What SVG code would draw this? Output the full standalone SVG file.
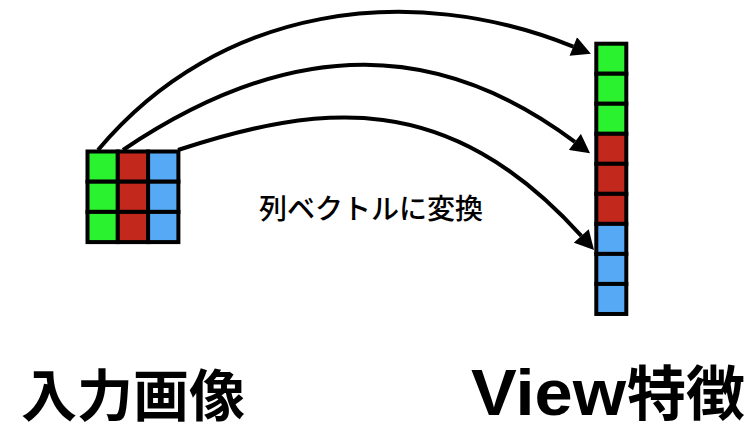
<svg xmlns="http://www.w3.org/2000/svg" width="751" height="427" viewBox="0 0 751 427">
<style>
.cell{stroke:#000;stroke-width:4}
.g{fill:#2AF22E}
.r{fill:#C2291C}
.b{fill:#56A9F5}
.edge{fill:none;stroke:#000;stroke-width:4;marker-end:url(#ah)}
.jp{font-family:"Noto Sans CJK JP","Noto Sans CJK SC",sans-serif;fill:#000}
.lbl{font-family:"Liberation Sans","Noto Sans CJK JP",sans-serif;font-weight:bold;fill:#000}
</style>
<defs>
<marker id="ah" markerUnits="userSpaceOnUse" markerWidth="20" markerHeight="20" viewBox="0 0 18 19" refX="0" refY="9.5" orient="auto">
<path d="M0,0 L18,9.5 L0,19 z" fill="#000"/>
</marker>
</defs>
<rect width="751" height="427" fill="#fff"/>
<g id="input-grid">
<rect class="cell g" x="87.5" y="151.5" width="30.3" height="30.2"/>
<rect class="cell r" x="117.8" y="151.5" width="30.3" height="30.2"/>
<rect class="cell b" x="148.1" y="151.5" width="30.3" height="30.2"/>
<rect class="cell g" x="87.5" y="181.7" width="30.3" height="30.2"/>
<rect class="cell r" x="117.8" y="181.7" width="30.3" height="30.2"/>
<rect class="cell b" x="148.1" y="181.7" width="30.3" height="30.2"/>
<rect class="cell g" x="87.5" y="211.9" width="30.3" height="30.2"/>
<rect class="cell r" x="117.8" y="211.9" width="30.3" height="30.2"/>
<rect class="cell b" x="148.1" y="211.9" width="30.3" height="30.2"/>
</g>
<g id="view-vector">
<rect class="cell g" x="596.3" y="43.7" width="30" height="30.03"/>
<rect class="cell g" x="596.3" y="73.73" width="30" height="30.03"/>
<rect class="cell g" x="596.3" y="103.76" width="30" height="30.03"/>
<rect class="cell r" x="596.3" y="133.79" width="30" height="30.03"/>
<rect class="cell r" x="596.3" y="163.82" width="30" height="30.03"/>
<rect class="cell r" x="596.3" y="193.85" width="30" height="30.03"/>
<rect class="cell b" x="596.3" y="223.88" width="30" height="30.03"/>
<rect class="cell b" x="596.3" y="253.91" width="30" height="30.03"/>
<rect class="cell b" x="596.3" y="283.94" width="30" height="30.03"/>
</g>
<g id="connectors">
<path class="edge" d="M98,150 C220,4.5 411,-19 573.3,46.6"/>
<path class="edge" d="M123,150 C297,32.4 442.9,42.9 574.9,141.9"/>
<path class="edge" d="M178,150 C320.5,103.5 447.3,87.9 581.3,235.9"/>
</g>
<g id="transform-label">
<text class="jp" x="259" y="219" font-size="28" font-weight="500">列ベクトルに変換</text>
</g>
<g id="input-label">
<text class="jp" x="21" y="416" font-size="56" font-weight="bold">入力画像</text>
</g>
<g id="view-label">
<text class="lbl" x="471" y="414.5" font-size="64"><tspan textLength="155" lengthAdjust="spacingAndGlyphs">View</tspan><tspan x="627" font-size="59" font-family="Noto Sans CJK JP, sans-serif">特徴</tspan></text>
</g>
</svg>
